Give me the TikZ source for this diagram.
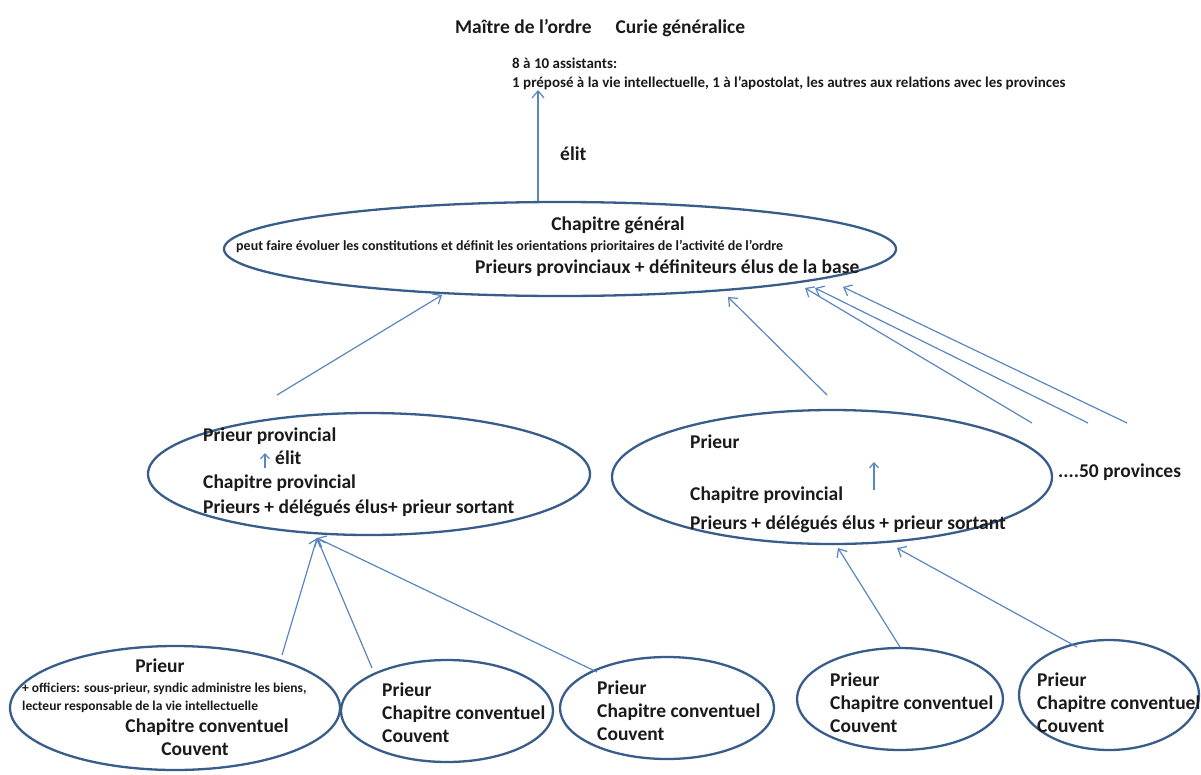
\documentclass[tikz,border=0pt]{standalone}
\usepackage{fontspec}
\setmainfont{Carlito}
\usetikzlibrary{shapes.geometric,arrows.meta}
\definecolor{edgeblue}{HTML}{385D8A}
\definecolor{linkblue}{HTML}{5A86C0}
\definecolor{ink}{HTML}{1A1A1A}
\begin{document}
\begin{tikzpicture}[x=1pt,y=-1pt,
  oval/.style={ellipse, draw=edgeblue, line width=2.3pt, fill=white, inner sep=0pt},
  arr/.style={draw=linkblue, line width=1.2pt, -{Straight Barb[length=7pt,width=12pt]}},
  smallarr/.style={arr, -{Straight Barb[length=5pt,width=9pt]}},
  big/.style={font=\fontsize{19.5}{23}\selectfont\bfseries, text=ink, inner sep=0pt},
  small/.style={font=\fontsize{15}{17}\selectfont\bfseries, text=ink, inner sep=0pt},
  mid/.style={font=\fontsize{14}{16}\selectfont\bfseries, text=ink, inner sep=0pt},
  tiny/.style={font=\fontsize{13.5}{15}\selectfont\bfseries, text=ink, inner sep=0pt}]
\useasboundingbox (0,0) rectangle (1201,774);

% ellipses
\node[oval, minimum width=672pt, minimum height=94pt] (cg) at (560,249) {};
\node[oval, minimum width=442pt, minimum height=122pt] (pl) at (369,474) {};
\node[oval, minimum width=440pt, minimum height=134pt] (pr) at (832,477) {};
\node[oval, minimum width=330pt, minimum height=124pt] (c1) at (175,708) {};
\node[oval, minimum width=212pt, minimum height=102pt] (c2) at (447,711) {};
\node[oval, minimum width=214pt, minimum height=102pt] (c3) at (667,708) {};
\node[oval, minimum width=206pt, minimum height=102pt] (c4) at (900,699) {};
\node[oval, minimum width=180pt, minimum height=110pt] (c5) at (1109,695) {};

% top texts
\node[big, anchor=base west] (maitre) at (455,33) {Maître de l’ordre\hspace{24pt}Curie généralice};
\node[small, anchor=base west] (assist) at (512,68) {8 à 10 assistants:};
\node[small, anchor=base west] (prepose) at (512,87) {1 préposé à la vie intellectuelle, 1 à l’apostolat, les autres aux relations avec les provinces};
\node[big, anchor=base west] (elit) at (560,160) {élit};

% general chapter texts
\node[big, anchor=base] (cgt1) at (618,230) {Chapitre général};
\node[mid, anchor=base west] (cgt2) at (236,250) {peut faire évoluer les constitutions et définit les orientations prioritaires de l’activité de l’ordre};
\node[big, anchor=base west] (cgt3) at (475,273) {Prieurs provinciaux + définiteurs élus de la base};

% left province
\node[big, anchor=base west] (plt1) at (203,441) {Prieur provincial};
\node[big, anchor=base west] (plt2) at (275,464) {élit};
\node[big, anchor=base west] (plt3) at (203,488) {Chapitre provincial};
\node[big, anchor=base west] (plt4) at (203,513) {Prieurs + délégués élus+ prieur sortant};

% right province
\node[big, anchor=base west] (prt1) at (690,448) {Prieur};
\node[big, anchor=base west] (prt3) at (690,500) {Chapitre provincial};
\node[big, anchor=base west] (prt4) at (690,529) {Prieurs + délégués élus + prieur sortant};
\node[big, anchor=base west] (more) at (1058,477) {....50 provinces};

% convent 1
\node[big, anchor=base] (c1t1) at (160,672) {Prieur};
\node[tiny, anchor=base west] (c1t2) at (22,692) {+ officiers: sous-prieur, syndic administre les biens,};
\node[tiny, anchor=base west] (c1t3) at (22,710) {lecteur responsable de la vie intellectuelle};
\node[big, anchor=base] (c1t4) at (207,732) {Chapitre conventuel};
\node[big, anchor=base] (c1t5) at (195,755) {Couvent};

% convents 2-5 (anchor at the baseline of the last line)
\node[big, anchor=base west, align=left] (c2t) at (382,742) {Prieur\\Chapitre conventuel\\Couvent};
\node[big, anchor=base west, align=left] (c3t) at (597,740) {Prieur\\Chapitre conventuel\\Couvent};
\node[big, anchor=base west, align=left] (c4t) at (830,732) {Prieur\\Chapitre conventuel\\Couvent};
\node[big, anchor=base west, align=left] (c5t) at (1037,732) {Prieur\\Chapitre conventuel\\Couvent};

% connector end points
\coordinate (topTip) at (538,90);
\coordinate (a1s) at (277,395); \coordinate (a1e) at (442,295);
\coordinate (a2s) at (827,395); \coordinate (a2e) at (728,297);
\coordinate (a3s) at (1032,423); \coordinate (a3e) at (805,288);
\coordinate (a4s) at (1088,423); \coordinate (a4e) at (815,288);
\coordinate (a5s) at (1127,423); \coordinate (a5e) at (843,287);
\coordinate (plIn) at (317,538);
\coordinate (b1s) at (282,655); \coordinate (b2s) at (372,668); \coordinate (b3s) at (597,672);
\coordinate (prIn1) at (838,548); \coordinate (prIn2) at (897,548);
\coordinate (b4s) at (900,647); \coordinate (b5s) at (1077,647);
\coordinate (e1s) at (265,468); \coordinate (e1e) at (265,453);
\coordinate (e2s) at (874,490); \coordinate (e2e) at (874,462);

% connectors
\draw[arr] (topTip |- cg.north) -- (topTip);
\draw[arr] (a1s) -- (a1e);
\draw[arr] (a2s) -- (a2e);
\draw[arr] (a3s) -- (a3e);
\draw[arr] (a4s) -- (a4e);
\draw[arr] (a5s) -- (a5e);
\draw[arr] (b1s) -- (plIn);
\draw[arr] (b2s) -- (plIn);
\draw[arr] (b3s) -- (plIn);
\draw[arr] (b4s) -- (prIn1);
\draw[arr] (b5s) -- (prIn2);
\draw[smallarr] (e1s) -- (e1e);
\draw[smallarr] (e2s) -- (e2e);
\end{tikzpicture}
\end{document}
